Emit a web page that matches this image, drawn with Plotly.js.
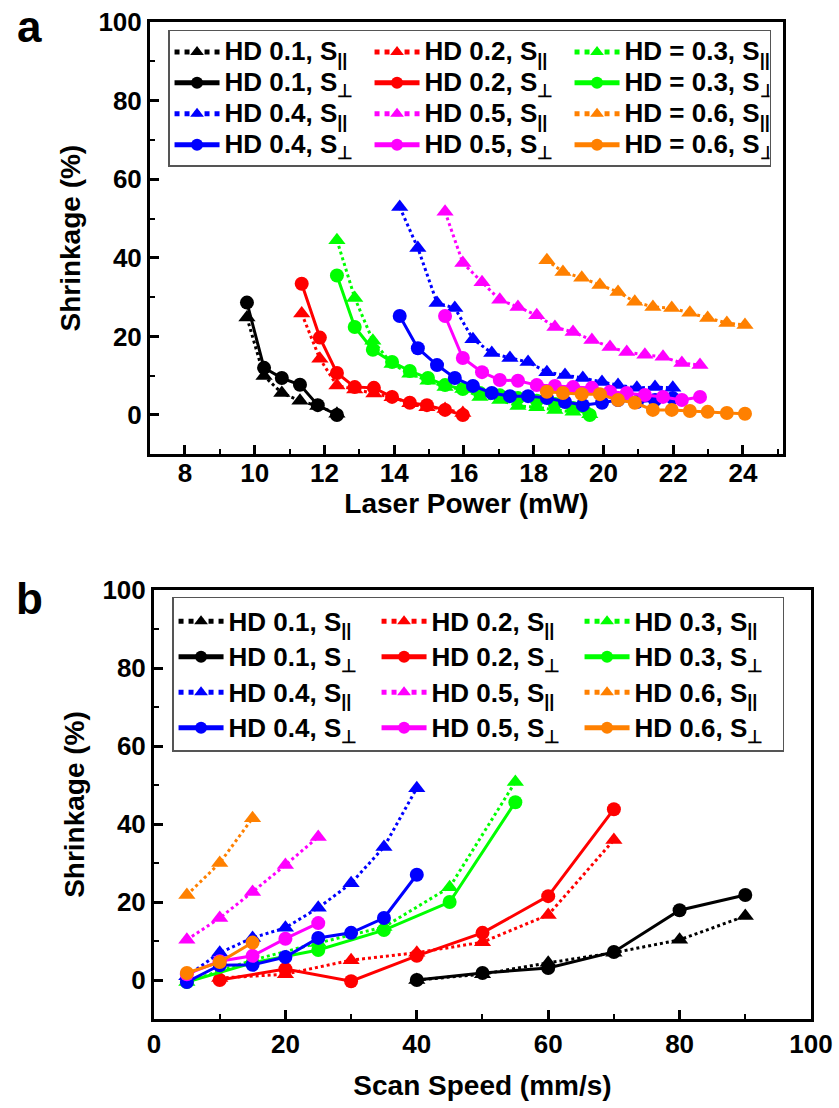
<!DOCTYPE html>
<html>
<head>
<meta charset="utf-8">
<script src="https://cdn.plot.ly/plotly-3.0.1.min.js"></script>
<style>html,body{margin:0;padding:0;background:#fff;}#chart{width:839px;height:1108px;}</style>
</head>
<body>
<div id="chart"></div>
<script>
// ---------- Panel a: shrinkage vs laser power (mW) ----------
const powerHD01 = [9.78, 10.27, 10.78, 11.30, 11.81, 12.36];
const aHD01par  = [24.8, 9.9, 5.6, 3.6, 2.3, 0.3];
const aHD01perp = [28.6, 12.0, 9.4, 7.7, 2.5, 0.0];

const powerHD02 = [11.35, 11.87, 12.36, 12.87, 13.42, 13.94, 14.45, 14.94, 15.46, 15.97];
const aHD02par  = [25.8, 14.3, 7.5, 6.5, 5.5, 4.5, 3.0, 2.0, 1.5, 0.5];
const aHD02perp = [33.4, 19.7, 10.7, 7.1, 6.9, 4.6, 3.1, 2.5, 1.3, 0.0];

const powerHD03 = [12.36, 12.87, 13.39, 13.94, 14.45, 14.97, 15.46, 15.97, 16.46, 17.03, 17.55, 18.09, 18.61, 19.13, 19.61];
const aHD03par  = [44.5, 29.8, 18.9, 13.0, 10.5, 8.7, 7.1, 6.6, 4.6, 3.8, 2.3, 2.0, 1.3, 0.8, 0.2];
const aHD03perp = [35.5, 22.4, 16.6, 13.5, 11.2, 9.4, 7.6, 6.6, 5.6, 5.0, 4.3, 3.6, 2.8, 1.8, 0.0];

const powerHD04 = [14.16, 14.68, 15.23, 15.74, 16.26, 16.80, 17.32, 17.84, 18.38, 18.90, 19.41, 19.96, 20.42, 20.96, 21.48, 21.99];
const aHD04par  = [52.9, 42.5, 28.5, 27.2, 19.3, 15.8, 14.5, 13.5, 10.9, 10.2, 9.4, 8.4, 7.6, 6.9, 7.1, 6.9];
const aHD04perp = [25.2, 17.0, 12.7, 9.4, 7.4, 5.6, 4.8, 4.8, 4.3, 3.3, 2.5, 3.1, 3.8, 3.3, 3.8, 4.3];

const powerHD05 = [15.46, 15.97, 16.52, 17.03, 17.55, 18.09, 18.61, 19.13, 19.67, 20.19, 20.67, 21.19, 21.71, 22.25, 22.77];
const aHD05par  = [51.7, 38.7, 33.8, 29.3, 27.5, 25.4, 22.4, 21.1, 19.1, 17.3, 16.0, 15.3, 14.8, 13.2, 12.7];
const aHD05perp = [25.2, 14.5, 10.9, 8.9, 8.7, 7.6, 7.4, 7.1, 6.9, 5.9, 5.6, 5.1, 4.6, 3.8, 4.6];

const powerHD06 = [18.38, 18.84, 19.38, 19.90, 20.42, 20.90, 21.42, 21.96, 22.48, 22.99, 23.54, 24.06];
const aHD06par  = [39.4, 36.4, 34.9, 33.1, 31.3, 28.8, 27.5, 27.2, 26.0, 24.7, 23.4, 22.9];
const aHD06perp = [5.9, 5.6, 5.3, 5.3, 3.8, 3.1, 1.3, 1.3, 1.0, 0.8, 0.5, 0.3];

// ---------- Panel b: shrinkage vs scan speed (mm/s) ----------
const speedHD01 = [40, 50, 60, 70, 80, 90];
const bHD01par  = [0.0, 1.5, 4.4, 7.0, 10.3, 16.4];
const bHD01perp = [0.0, 1.8, 3.1, 7.2, 17.9, 21.8];

const speedHD02 = [10, 20, 30, 40, 50, 60, 70];
const bHD02par  = [0.5, 1.5, 5.1, 7.0, 9.7, 16.7, 35.9];
const bHD02perp = [0.0, 2.8, -0.3, 6.2, 12.1, 21.5, 43.8];

const speedHD03 = [5, 15, 25, 35, 45, 55];
const bHD03par  = [-0.5, 5.1, 9.5, 13.6, 23.8, 50.8];
const bHD03perp = [-0.5, 4.4, 7.7, 12.8, 20.0, 45.6];

const speedHD04 = [5, 10, 15, 20, 25, 30, 35, 40];
const bHD04par  = [1.0, 7.0, 10.8, 13.4, 18.5, 24.8, 34.1, 49.2];
const bHD04perp = [-0.5, 3.8, 3.9, 5.9, 10.8, 12.1, 15.9, 27.0];

const speedHD05 = [5, 10, 15, 20, 25];
const bHD05par  = [10.3, 15.9, 22.6, 29.5, 36.7];
const bHD05perp = [1.5, 4.8, 6.2, 10.6, 14.6];

const speedHD06 = [5, 10, 15];
const bHD06par  = [21.8, 30.0, 41.5];
const bHD06perp = [1.8, 4.6, 9.6];

const tickLabelsY = [0, 20, 40, 60, 80, 100];
const tickLabelsPower = [8, 10, 12, 14, 16, 18, 20, 22, 24];
const tickLabelsSpeed = [0, 20, 40, 60, 80, 100];

const colors = {k:'#000000', r:'#ff0000', g:'#00ff00', b:'#0000ff', m:'#ff00ff', o:'#ff8000'};
const PAR = 'S<sub>||</sub>';
const PERP = 'S<sub>⊥</sub>';

function tr(x, y, label, color, par, panel, rank) {
  return {
    x: x, y: y, type: 'scatter', mode: 'lines+markers',
    name: '<span style="font-size:26px">' + label + ', ' + (par ? PAR : PERP) + '</span>',
    xaxis: panel === 'a' ? 'x' : 'x2',
    yaxis: panel === 'a' ? 'y' : 'y2',
    legend: panel === 'a' ? 'legend' : 'legend2',
    legendrank: rank,
    line: {color: color, width: 3, dash: par ? 'dot' : 'solid'},
    marker: {color: color, size: par ? 15 : 14, symbol: par ? 'triangle-up' : 'circle'}
  };
}

const data = [
  tr(powerHD01, aHD01par, 'HD 0.1', colors.k, true, 'a', 1),
  tr(powerHD01, aHD01perp, 'HD 0.1', colors.k, false, 'a', 4),
  tr(powerHD02, aHD02par, 'HD 0.2', colors.r, true, 'a', 2),
  tr(powerHD02, aHD02perp, 'HD 0.2', colors.r, false, 'a', 5),
  tr(powerHD03, aHD03par, 'HD = 0.3', colors.g, true, 'a', 3),
  tr(powerHD03, aHD03perp, 'HD = 0.3', colors.g, false, 'a', 6),
  tr(powerHD04, aHD04par, 'HD 0.4', colors.b, true, 'a', 7),
  tr(powerHD04, aHD04perp, 'HD 0.4', colors.b, false, 'a', 10),
  tr(powerHD05, aHD05par, 'HD 0.5', colors.m, true, 'a', 8),
  tr(powerHD05, aHD05perp, 'HD 0.5', colors.m, false, 'a', 11),
  tr(powerHD06, aHD06par, 'HD = 0.6', colors.o, true, 'a', 9),
  tr(powerHD06, aHD06perp, 'HD = 0.6', colors.o, false, 'a', 12),

  tr(speedHD01, bHD01par, 'HD 0.1', colors.k, true, 'b', 1),
  tr(speedHD01, bHD01perp, 'HD 0.1', colors.k, false, 'b', 4),
  tr(speedHD02, bHD02par, 'HD 0.2', colors.r, true, 'b', 2),
  tr(speedHD02, bHD02perp, 'HD 0.2', colors.r, false, 'b', 5),
  tr(speedHD03, bHD03par, 'HD 0.3', colors.g, true, 'b', 3),
  tr(speedHD03, bHD03perp, 'HD 0.3', colors.g, false, 'b', 6),
  tr(speedHD04, bHD04par, 'HD 0.4', colors.b, true, 'b', 7),
  tr(speedHD04, bHD04perp, 'HD 0.4', colors.b, false, 'b', 10),
  tr(speedHD05, bHD05par, 'HD 0.5', colors.m, true, 'b', 8),
  tr(speedHD05, bHD05perp, 'HD 0.5', colors.m, false, 'b', 11),
  tr(speedHD06, bHD06par, 'HD 0.6', colors.o, true, 'b', 9),
  tr(speedHD06, bHD06perp, 'HD 0.6', colors.o, false, 'b', 12)
];

const FONT = 'Liberation Sans, Arial, sans-serif';
const tickFont = {family: FONT, size: 26, color: '#000', weight: 'bold'};
const titleFont = {family: FONT, size: 28, color: '#000', weight: 'bold'};
const minorTicks = (dt) => ({dtick: dt, ticklen: 5, tickwidth: 2, ticks: 'inside', tickcolor: '#000'});

function axis(extra) {
  return Object.assign({
    showline: true, linewidth: 3, linecolor: '#000', mirror: true,
    ticks: 'inside', ticklen: 9, tickwidth: 3, tickcolor: '#000',
    showgrid: false, zeroline: false, tickfont: tickFont,
    fixedrange: true
  }, extra);
}

const legendCommon = {
  orientation: 'h', xanchor: 'left', yanchor: 'top',
  bgcolor: '#ffffff', bordercolor: '#555555', borderwidth: 1.5,
  itemwidth: 45, itemsizing: 'constant', tracegroupgap: 0, traceorder: 'normal'
};

const layout = {
  width: 839, height: 1108,
  margin: {l: 150, r: 21, t: 0, b: 0},
  paper_bgcolor: '#fff', plot_bgcolor: '#fff',
  showlegend: true,
  xaxis: axis({domain: [0, 0.9476], range: [7, 25.15], anchor: 'y',
    tickvals: tickLabelsPower, ticktext: tickLabelsPower.map(String),
    minor: minorTicks(1), ticklabelstandoff: -6,
    title: {text: 'Laser Power (mW)', font: titleFont, standoff: 2}}),
  yaxis: axis({domain: [0.59, 0.9801], range: [-10, 100], anchor: 'x',
    tickvals: tickLabelsY, ticktext: tickLabelsY.map(String),
    minor: minorTicks(10),
    title: {text: 'Shrinkage (%)', font: titleFont, standoff: 10}}),
  xaxis2: axis({domain: [0.006, 0.9895], range: [0, 100], anchor: 'y2',
    tickvals: tickLabelsSpeed, ticktext: tickLabelsSpeed.map(String),
    minor: minorTicks(10),
    title: {text: 'Scan Speed (mm/s)', font: titleFont, standoff: 18}}),
  yaxis2: axis({domain: [0.0803, 0.4675], range: [-10, 100], anchor: 'x2',
    tickvals: tickLabelsY, ticktext: tickLabelsY.map(String),
    minor: minorTicks(10),
    title: {text: 'Shrinkage (%)', font: titleFont, standoff: 10}}),
  legend: Object.assign({}, legendCommon, {x: 0.027, y: 0.973, entrywidth: 140,
    font: {family: FONT, size: 21.5, color: '#000', weight: 'bold'}}),
  legend2: Object.assign({}, legendCommon, {x: 0.033, y: 0.4612, entrywidth: 143,
    font: {family: FONT, size: 25, color: '#000', weight: 'bold'}}),
  annotations: [
    {text: 'a', xref: 'paper', yref: 'paper', x: -0.18, y: 1.0, xanchor: 'center', yanchor: 'top',
     showarrow: false, font: {family: FONT, size: 44, color: '#000', weight: 'bold'}},
    {text: 'b', xref: 'paper', yref: 'paper', x: -0.18, y: 0.484, xanchor: 'center', yanchor: 'top',
     showarrow: false, font: {family: FONT, size: 44, color: '#000', weight: 'bold'}}
  ]
};

Plotly.newPlot('chart', data, layout, {displayModeBar: false, staticPlot: true});
</script>
</body>
</html>
